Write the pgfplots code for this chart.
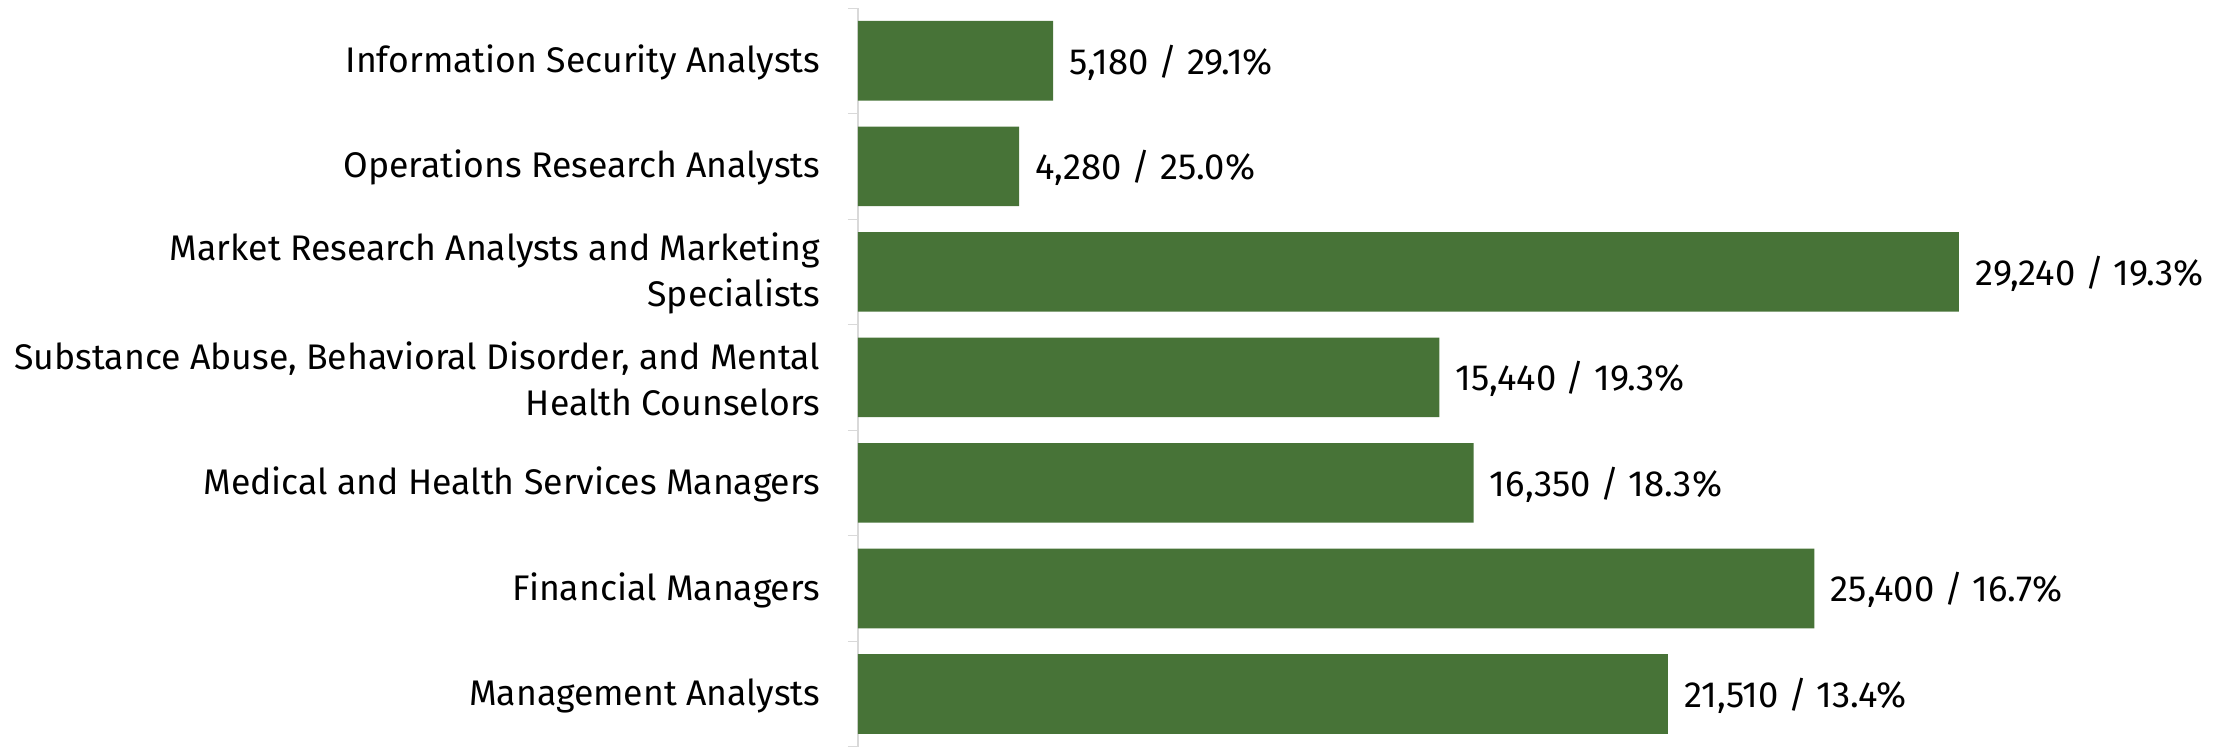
\documentclass[border=0pt]{standalone}
\usepackage{fontspec}
\setmainfont{Fira Sans}
\usepackage{pgfplots}
\usepackage{pgfplotstable}
\pgfplotsset{compat=1.18}
\definecolor{bargreen}{HTML}{477337}
\definecolor{axgray}{HTML}{D9D9D9}

\pgfplotstableread[col sep=semicolon]{
y;x;lab
1;21510;21,510 / 13.4\%
2;25400;25,400 / 16.7\%
3;16350;16,350 / 18.3\%
4;15440;15,440 / 19.3\%
5;29240;29,240 / 19.3\%
6;4280;4,280 / 25.0\%
7;5180;5,180 / 29.1\%
}\jobs

\begin{document}
\begin{tikzpicture}
\begin{axis}[
    name=ax,
    scale only axis,
    width=342.25pt, height=184.7pt,
    xbar, bar width=0.754,
    xmin=0, xmax=36360,
    ymin=0.5, ymax=7.5,
    axis x line=none,
    axis y line=left,
    axis line style={draw=axgray, -},
    ytick={1,...,7},
    yticklabels={
        Management Analysts,
        Financial Managers,
        Medical and Health Services Managers,
        {Substance Abuse, Behavioral Disorder, and Mental\\Health Counselors},
        {Market Research Analysts and Marketing\\Specialists},
        Operations Research Analysts,
        Information Security Analysts},
    yticklabel style={align=right, inner sep=0pt, xshift=-9.25pt, yshift=-0.4pt,
        font=\fontsize{8.9}{11.4}\selectfont},
    minor ytick={0.5,1.5,2.5,3.5,4.5,5.5,6.5,7.5},
    major tick length=0pt,
    minor tick length=2.5pt,
    tick align=outside,
    minor tick style={draw=axgray},
    point meta=explicit symbolic,
    nodes near coords,
    every node near coord/.style={anchor=west, inner sep=0pt, xshift=3.9pt, yshift=-0.4pt,
        font=\fontsize{9.1}{11.4}\selectfont, text=black},
    clip=false,
]
\addplot[fill=bargreen, draw=none] table[x=x, y=y, meta=lab] {\jobs};
\end{axis}
\pgfresetboundingbox
\path ([xshift=-214.5pt]ax.south west) rectangle ([yshift=2pt]ax.north east);
\end{tikzpicture}
\end{document}
